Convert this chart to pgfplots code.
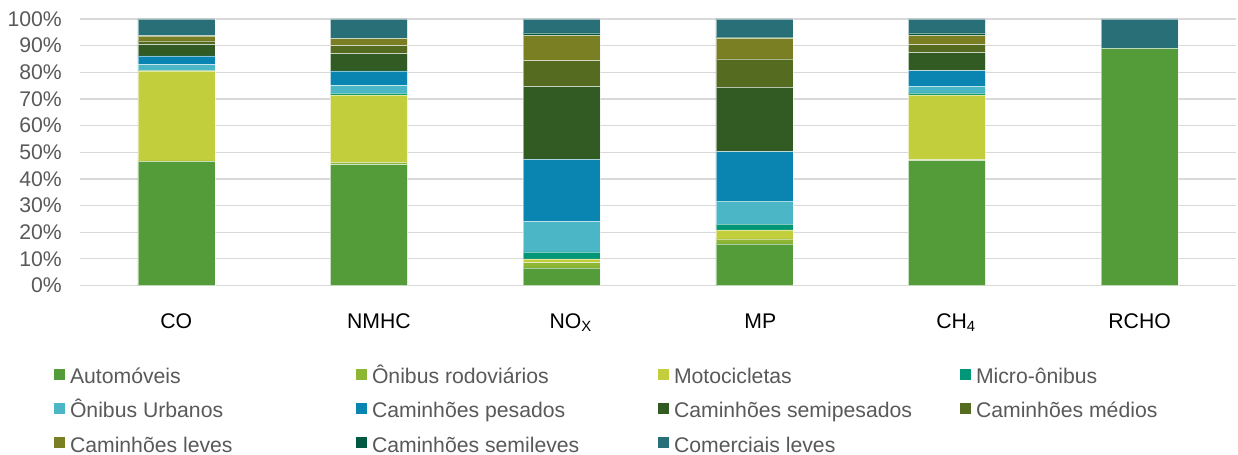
\documentclass[border=0pt]{standalone}
\usepackage{pgfplots}
\pgfplotsset{compat=1.18}
\usepackage{fontspec}
\setmainfont{Liberation Sans}
\definecolor{cAuto}{RGB}{84,155,58}
\definecolor{cORod}{RGB}{140,182,52}
\definecolor{cMoto}{RGB}{195,206,60}
\definecolor{cMicro}{RGB}{0,150,120}
\definecolor{cOUrb}{RGB}{75,182,198}
\definecolor{cPes}{RGB}{10,133,178}
\definecolor{cSemiP}{RGB}{49,91,35}
\definecolor{cMed}{RGB}{84,107,32}
\definecolor{cLev}{RGB}{121,127,34}
\definecolor{cSemiL}{RGB}{0,88,66}
\definecolor{cCom}{RGB}{40,111,120}
\definecolor{txtgray}{RGB}{89,89,89}
\definecolor{gridgray}{RGB}{217,217,217}
\begin{document}
\fontsize{21.2bp}{25bp}\selectfont
\begin{tikzpicture}
\useasboundingbox (-80bp,-169.5bp) rectangle (1158bp,285.5bp);
\begin{axis}[
  at={(0,0)}, anchor=south west,
  scale only axis, width=1156bp, height=266.5bp,
  ybar stacked, bar width=77bp,
  every axis plot/.append style={draw=white, draw opacity=0.5, line width=0.5bp,
    legend image code/.code={\fill[##1,draw=none] (0bp,-1.5bp) rectangle (11bp,9.5bp);}},
  xmin=-0.5, xmax=5.5, ymin=0, ymax=100,
  enlargelimits=false,
  axis line style={draw=none},
  major tick length=0pt,
  ymajorgrids, grid style={draw=gridgray, line width=1.2bp},
  xtick={0,1,2,3,4,5},
  xticklabels={CO,\hspace*{20bp}NMHC,\hspace*{18bp}NO\textsubscript{X},\hspace*{12bp}MP,\hspace*{18bp}CH\textsubscript{4},RCHO},
  xticklabel style={anchor=base, inner sep=0pt, yshift=-42.5bp, text=black},
  ytick={0,10,...,100},
  yticklabels={0\%,10\%,20\%,30\%,40\%,50\%,60\%,70\%,80\%,90\%,100\%},
  yticklabel style={anchor=east, inner sep=0pt, xshift=-18bp, text=txtgray},
  legend columns=4,
  legend cell align=left,
  legend style={at={(-0.02249,-0.3115)}, anchor=north west, draw=none,
    inner sep=0pt, outer sep=0pt, text=txtgray,
    nodes={inner sep=0pt, text height=15bp, text depth=4bp},
    row sep=15.3bp,
    /tikz/every odd column/.append style={column sep=5bp}},
]
\addplot[fill=cAuto] coordinates {(0,46.6) (1,45.4) (2,6.6) (3,15.6) (4,46.9) (5,89.0)};
\addplot[fill=cORod] coordinates {(0,0.2) (1,0.8) (2,2.0) (3,1.9) (4,0.3) (5,0)};
\addplot[fill=cMoto] coordinates {(0,33.7) (1,25.3) (2,1.4) (3,3.4) (4,24.3) (5,0)};
\addplot[fill=cMicro] coordinates {(0,0.2) (1,0.7) (2,2.6) (3,2.1) (4,0.8) (5,0)};
\addplot[fill=cOUrb] coordinates {(0,2.2) (1,2.8) (2,11.5) (3,8.7) (4,2.4) (5,0)};
\addplot[fill=cPes] coordinates {(0,3.3) (1,5.5) (2,23.2) (3,18.5) (4,5.9) (5,0)};
\addplot[fill=cSemiP] coordinates {(0,4.2) (1,6.5) (2,27.3) (3,24.1) (4,6.8) (5,0)};
\addplot[fill=cMed] coordinates {(0,1.4) (1,3.0) (2,9.8) (3,10.7) (4,3.0) (5,0)};
\addplot[fill=cLev] coordinates {(0,1.8) (1,2.6) (2,9.5) (3,7.7) (4,3.5) (5,0)};
\addplot[fill=cSemiL] coordinates {(0,0.2) (1,0.2) (2,0.9) (3,0.6) (4,0.9) (5,0)};
\addplot[fill=cCom] coordinates {(0,6.2) (1,7.2) (2,5.2) (3,6.7) (4,5.2) (5,11.0)};
\legend{\makebox[286bp][l]{Automóveis},\makebox[286bp][l]{Ônibus rodoviários},\makebox[286bp][l]{Motocicletas},\makebox[286bp][l]{Micro-ônibus},
\makebox[286bp][l]{Ônibus Urbanos},\makebox[286bp][l]{Caminhões pesados},\makebox[286bp][l]{Caminhões semipesados},\makebox[286bp][l]{Caminhões médios},
\makebox[286bp][l]{Caminhões leves},\makebox[286bp][l]{Caminhões semileves},\makebox[286bp][l]{Comerciais leves}}
\end{axis}
\end{tikzpicture}
\end{document}
